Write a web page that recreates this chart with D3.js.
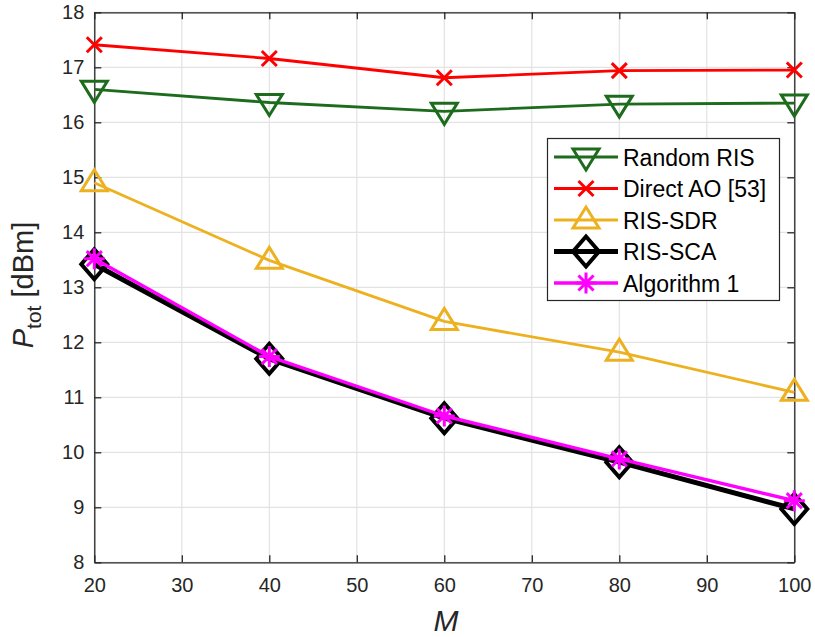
<!DOCTYPE html>
<html>
<head>
<meta charset="utf-8">
<script src="https://cdn.jsdelivr.net/npm/d3@7"></script>
<style>
  html, body { margin: 0; padding: 0; background: #fff; }
  svg { display: block; font-family: "Liberation Sans", Arial, sans-serif; }
</style>
</head>
<body>
<svg id="chart" width="815" height="637"></svg>
<script>
// Number of RIS elements
const M = [20, 40, 60, 80, 100];

// Total transmit power (dBm) per scheme
const randomRIS  = [16.60, 16.36, 16.20, 16.33, 16.35];
const directAO   = [17.41, 17.16, 16.81, 16.94, 16.95];
const risSDR     = [14.90, 13.49, 12.38, 11.82, 11.09];
const risSCA     = [13.42, 11.70, 10.62,  9.82,  8.97];
const algorithm1 = [13.52, 11.74, 10.66,  9.88,  9.12];

const xTicks = [20, 30, 40, 50, 60, 70, 80, 90, 100];
const yTicks = [8, 9, 10, 11, 12, 13, 14, 15, 16, 17, 18];

const seriesList = [
  { name: "Random RIS",      values: randomRIS,  color: "#1d6b1d", width: 2.8, marker: "triDown" },
  { name: "Direct AO [53]",  values: directAO,   color: "#ff0000", width: 2.8, marker: "cross" },
  { name: "RIS-SDR",         values: risSDR,     color: "#edb120", width: 2.8, marker: "triUp" },
  { name: "RIS-SCA",         values: risSCA,     color: "#000000", width: 5,   marker: "diamond" },
  { name: "Algorithm 1",     values: algorithm1, color: "#ff00ff", width: 3.4, marker: "star" }
];

const svg = d3.select("#chart");
const plotL = 94.3, plotR = 794.3, plotT = 12.3, plotB = 562.3;

const x = d3.scaleLinear().domain([20, 100]).range([plotL, plotR]);
const y = d3.scaleLinear().domain([8, 18]).range([plotB, plotT]);

const axisColor = "#262626";

// grid
const grid = svg.append("g");
grid.selectAll(".gx").data(xTicks).enter().append("line")
  .attr("x1", d => x(d)).attr("x2", d => x(d))
  .attr("y1", plotT).attr("y2", plotB)
  .attr("stroke", "#e3e3e3").attr("stroke-width", 1.2);
grid.selectAll(".gy").data(yTicks).enter().append("line")
  .attr("y1", d => y(d)).attr("y2", d => y(d))
  .attr("x1", plotL).attr("x2", plotR)
  .attr("stroke", "#e3e3e3").attr("stroke-width", 1.2);

// axes (ticks pointing inward, box on all four sides)
function styleAxis(g) {
  g.attr("font-size", null).attr("font-family", null);
  g.selectAll("path").attr("stroke", axisColor).attr("stroke-width", 1.3);
  g.selectAll("line").attr("stroke", axisColor).attr("stroke-width", 1.3);
  g.selectAll("text").attr("fill", axisColor)
    .style("font-family", '"Liberation Sans", Arial, sans-serif').style("font-size", "20px");
}
const xAxis = svg.append("g").attr("transform", `translate(0,${plotB})`)
  .call(d3.axisBottom(x).tickValues(xTicks).tickSizeInner(-7).tickSizeOuter(0).tickPadding(16));
styleAxis(xAxis);
const xAxisTop = svg.append("g").attr("transform", `translate(0,${plotT})`)
  .call(d3.axisTop(x).tickValues(xTicks).tickSizeInner(-7).tickSizeOuter(0).tickFormat(""));
styleAxis(xAxisTop);
const yAxis = svg.append("g").attr("transform", `translate(${plotL},0)`)
  .call(d3.axisLeft(y).tickValues(yTicks).tickSizeInner(-7).tickSizeOuter(0).tickPadding(10));
styleAxis(yAxis);
const yAxisRight = svg.append("g").attr("transform", `translate(${plotR},0)`)
  .call(d3.axisRight(y).tickValues(yTicks).tickSizeInner(-7).tickSizeOuter(0).tickFormat(""));
styleAxis(yAxisRight);

// marker shapes
function drawMarker(g, type, cx, cy, color) {
  if (type === "triDown") {
    g.append("path").attr("d", `M${cx - 13},${cy - 8} L${cx + 13},${cy - 8} L${cx},${cy + 13} Z`)
      .attr("fill", "none").attr("stroke", color).attr("stroke-width", 3);
  } else if (type === "triUp") {
    g.append("path").attr("d", `M${cx - 13},${cy + 8} L${cx + 13},${cy + 8} L${cx},${cy - 13} Z`)
      .attr("fill", "none").attr("stroke", color).attr("stroke-width", 3);
  } else if (type === "cross") {
    g.append("path").attr("d", `M${cx - 7.5},${cy - 7.5} L${cx + 7.5},${cy + 7.5} M${cx - 7.5},${cy + 7.5} L${cx + 7.5},${cy - 7.5}`)
      .attr("fill", "none").attr("stroke", color).attr("stroke-width", 3);
  } else if (type === "diamond") {
    g.append("path").attr("d", `M${cx},${cy - 15} L${cx + 13},${cy} L${cx},${cy + 15} L${cx - 13},${cy} Z`)
      .attr("fill", "none").attr("stroke", color).attr("stroke-width", 4);
  } else if (type === "star") {
    const r = 10.5;
    let d = `M${cx - r},${cy} L${cx + r},${cy} M${cx},${cy - r} L${cx},${cy + r}`;
    const k = r * 0.72;
    d += ` M${cx - k},${cy - k} L${cx + k},${cy + k} M${cx - k},${cy + k} L${cx + k},${cy - k}`;
    g.append("path").attr("d", d).attr("fill", "none").attr("stroke", color).attr("stroke-width", 3);
  }
}

// lines and markers
const line = d3.line().x((d, i) => x(M[i])).y(d => y(d));
const plot = svg.append("g");
seriesList.forEach(s => {
  const g = plot.append("g");
  g.append("path").attr("d", line(s.values))
    .attr("fill", "none").attr("stroke", s.color).attr("stroke-width", s.width)
    .attr("stroke-linejoin", "round");
  s.values.forEach((v, i) => drawMarker(g, s.marker, x(M[i]), y(v), s.color));
});

// legend
const lg = svg.append("g");
lg.append("rect").attr("x", 547.5).attr("y", 138.5).attr("width", 232).attr("height", 162)
  .attr("fill", "#fff").attr("stroke", axisColor).attr("stroke-width", 1.2);
seriesList.forEach((s, i) => {
  const cy = 157 + i * 31.5;
  lg.append("line").attr("x1", 554).attr("x2", 618).attr("y1", cy).attr("y2", cy)
    .attr("stroke", s.color).attr("stroke-width", s.width);
  drawMarker(lg, s.marker, 586, cy, s.color);
  lg.append("text").attr("x", 623).attr("y", cy + 8.5).text(s.name)
    .attr("fill", "#000").style("font-size", "23px");
});

// axis labels
svg.append("text").attr("x", 446).attr("y", 631).attr("text-anchor", "middle")
  .style("font-size", "30px").style("font-style", "italic").attr("fill", axisColor).text("M");

const yl = svg.append("text").attr("transform", `translate(33,285) rotate(-90)`)
  .attr("text-anchor", "middle").attr("fill", axisColor).style("font-size", "29px");
yl.append("tspan").style("font-style", "italic").text("P");
yl.append("tspan").attr("dy", 8).style("font-size", "21px").text("tot");
yl.append("tspan").attr("dy", -8).text(" [dBm]");
</script>
</body>
</html>
